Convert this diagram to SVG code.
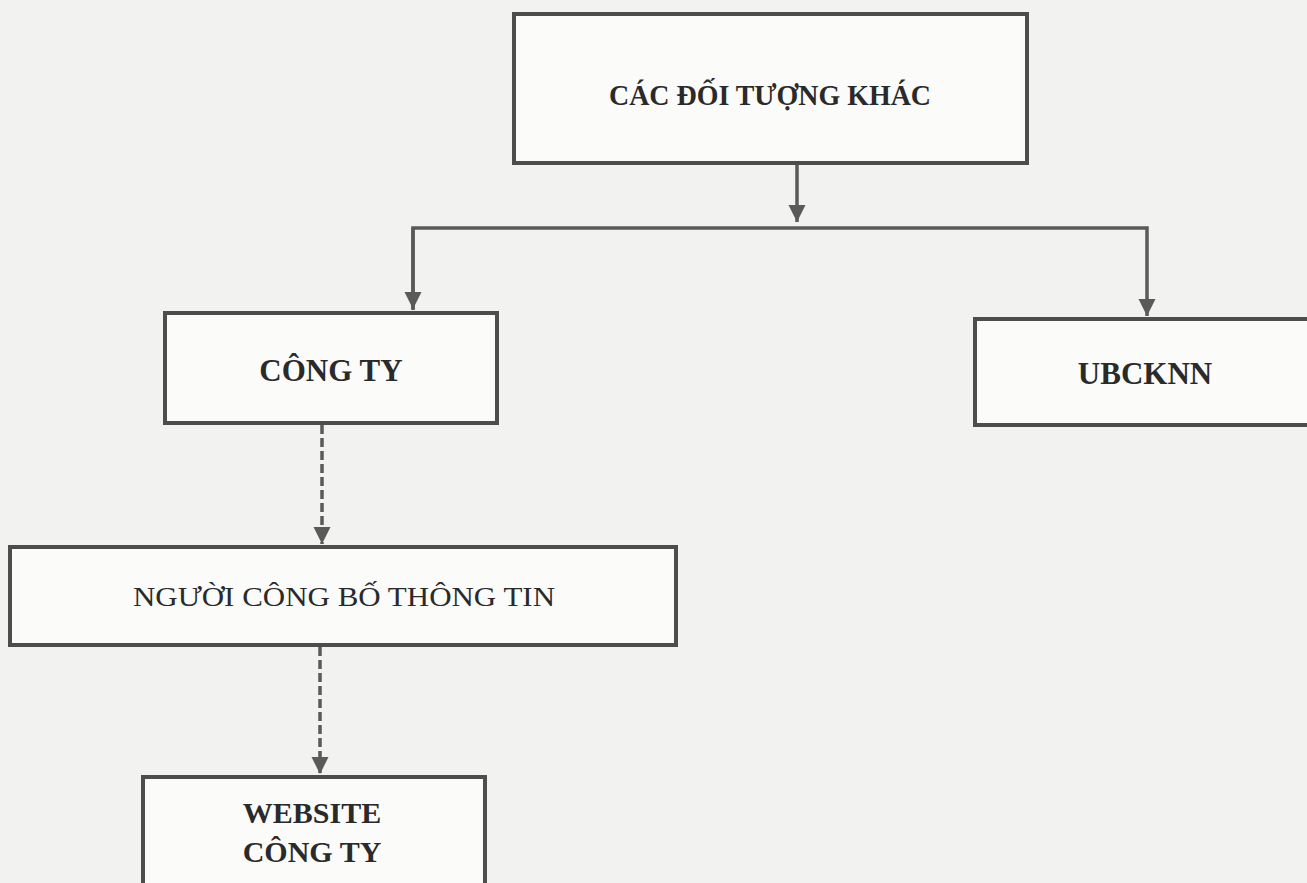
<svg xmlns="http://www.w3.org/2000/svg" width="1307" height="883" viewBox="0 0 1307 883">
<defs>
<marker id="arr" viewBox="0 0 10 10" refX="10" refY="5" markerWidth="5" markerHeight="5" orient="auto" markerUnits="strokeWidth">
<path d="M0,0 L10,5 L0,10 z" fill="#5a5a5a"/>
</marker>
<style>
.box{fill:#fbfbfa;stroke:#4d4d4d;stroke-width:4}
.ln{fill:none;stroke:#5a5a5a;stroke-width:3.5}
.dash{stroke-dasharray:9 4}
.t{font-family:"Liberation Serif","Times New Roman",serif;fill:#2a2a2a;text-anchor:middle;dominant-baseline:central}
.b{font-weight:bold}
</style>
</defs>
<rect width="1307" height="883" fill="#f2f2f0"/>
<g id="connectors">
<path class="ln" d="M797,164 V222" marker-end="url(#arr)"/>
<path class="ln" d="M413,310 V228 H1147 V316" marker-end="url(#arr)"/>
<path class="ln" d="M413,228 V309" marker-end="url(#arr)"/>
<path class="ln dash" d="M322,425 V544" marker-end="url(#arr)"/>
<path class="ln dash" d="M320,647 V774" marker-end="url(#arr)"/>
</g>
<g id="node-cac-doi-tuong">
<rect class="box" x="514" y="14" width="513" height="149"/>
<text class="t b" x="770" y="95" font-size="29" textLength="322" lengthAdjust="spacingAndGlyphs">CÁC ĐỐI TƯỢNG KHÁC</text>
</g>
<g id="node-cong-ty">
<rect class="box" x="165" y="313" width="332" height="110"/>
<text class="t b" x="331" y="370" font-size="31">CÔNG TY</text>
</g>
<g id="node-ubcknn">
<rect class="box" x="975" y="319" width="340" height="106"/>
<text class="t b" x="1145" y="373" font-size="31">UBCKNN</text>
</g>
<g id="node-nguoi-cbtt">
<rect class="box" x="10" y="547" width="666" height="98"/>
<text class="t" x="344" y="596" font-size="28" textLength="422" lengthAdjust="spacingAndGlyphs">NGƯỜI CÔNG BỐ THÔNG TIN</text>
</g>
<g id="node-website">
<rect class="box" x="143" y="777" width="342" height="130"/>
<text class="t b" x="312" y="812" font-size="30">WEBSITE</text>
<text class="t b" x="312" y="851" font-size="30">CÔNG TY</text>
</g>
</svg>
